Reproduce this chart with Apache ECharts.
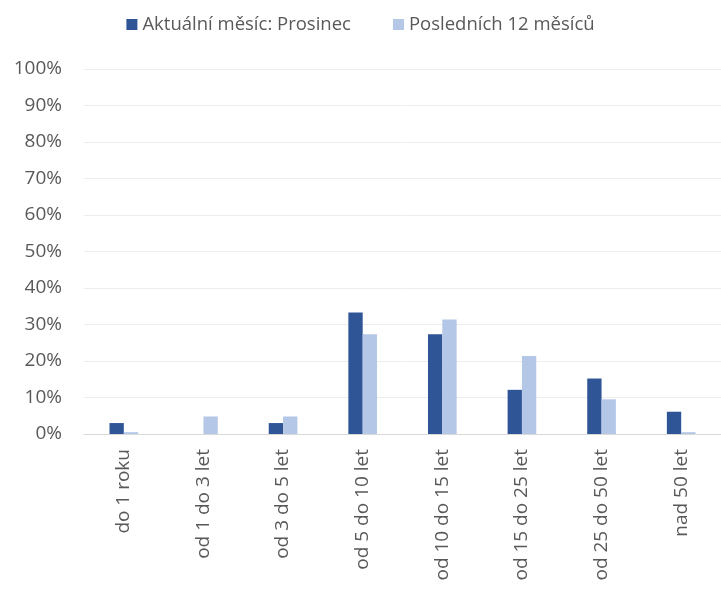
<!DOCTYPE html>
<html><head><meta charset="utf-8">
<script src="https://cdn.jsdelivr.net/npm/echarts@6/dist/echarts.min.js"></script>
<style>html,body{margin:0;padding:0;background:#fff}#c{width:721px;height:589px}</style>
</head><body><div id="c"></div>
<script>
var categories = ['do 1 roku','od 1 do 3 let','od 3 do 5 let','od 5 do 10 let','od 10 do 15 let','od 15 do 25 let','od 25 do 50 let','nad 50 let'];
var seriesNames = ['Aktuální měsíc: Prosinec','Posledních 12 měsíců'];
var currentMonth = [3.0, 0, 3.0, 33.3, 27.3, 12.1, 15.2, 6.1];
var last12Months = [0.5, 4.8, 4.8, 27.3, 31.4, 21.4, 9.5, 0.5];
var yTicks = [0,10,20,30,40,50,60,70,80,90,100];

var font = '"Open Sans", "Liberation Sans", sans-serif';
var chart = echarts.init(document.getElementById('c'), null, {renderer:'canvas'});
chart.setOption({
  animation: false,
  legend: {
    top: 10, left: 'center', itemWidth: 11, itemHeight: 11, itemGap: 42,
    icon: 'rect',
    textStyle: {color: '#595959', fontSize: 18.5, fontFamily: font},
    data: seriesNames
  },
  grid: {left: 84, right: -3, top: 69, bottom: 155, containLabel: false},
  xAxis: {
    type: 'category', data: categories,
    axisLine: {lineStyle: {color: '#D9D9D9', width: 1}},
    axisTick: {show: false},
    axisLabel: {rotate: 90, color: '#595959', fontSize: 19, fontFamily: font, margin: 15, interval: 0}
  },
  yAxis: {
    type: 'value', min: yTicks[0], max: yTicks[yTicks.length-1], interval: 10,
    axisLine: {show: false}, axisTick: {show: false},
    splitLine: {lineStyle: {color: '#EDEDED', width: 1}},
    axisLabel: {color: '#595959', fontSize: 19, fontFamily: font, margin: 22, formatter: '{value}%'}
  },
  series: [
    {name: seriesNames[0], type: 'bar', data: currentMonth, barGap: '0%', barCategoryGap: '64%',
     itemStyle: {color: '#2F5597'}},
    {name: seriesNames[1], type: 'bar', data: last12Months, barGap: '0%', barCategoryGap: '64%',
     itemStyle: {color: '#B4C7E7'}}
  ]
});
</script></body></html>
